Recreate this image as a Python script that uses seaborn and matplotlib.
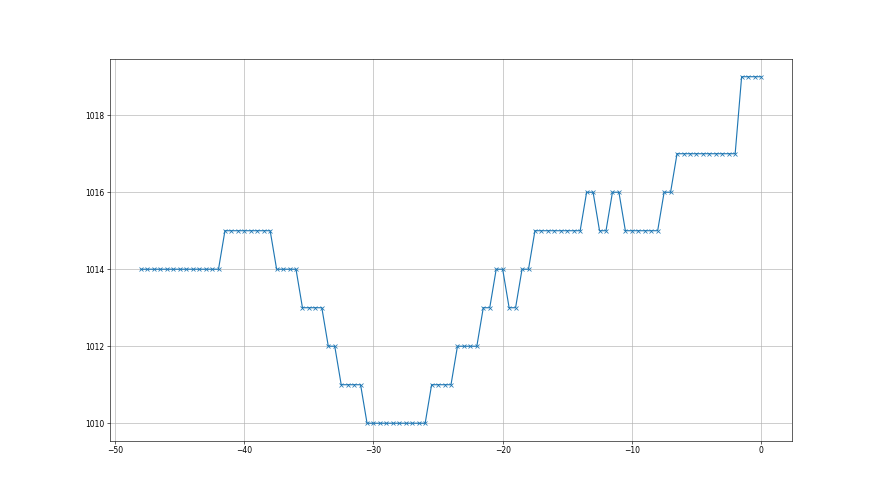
import matplotlib
matplotlib.use("Agg")
import matplotlib.pyplot as plt
import seaborn as sns

# --- Data --------------------------------------------------------------------
# time offsets (regular 0.5 step, -48 .. 0)
times = [
    -48.0, -47.5, -47.0, -46.5, -46.0, -45.5, -45.0, -44.5, -44.0, -43.5,
    -43.0, -42.5, -42.0, -41.5, -41.0, -40.5, -40.0, -39.5, -39.0, -38.5,
    -38.0, -37.5, -37.0, -36.5, -36.0, -35.5, -35.0, -34.5, -34.0, -33.5,
    -33.0, -32.5, -32.0, -31.5, -31.0, -30.5, -30.0, -29.5, -29.0, -28.5,
    -28.0, -27.5, -27.0, -26.5, -26.0, -25.5, -25.0, -24.5, -24.0, -23.5,
    -23.0, -22.5, -22.0, -21.5, -21.0, -20.5, -20.0, -19.5, -19.0, -18.5,
    -18.0, -17.5, -17.0, -16.5, -16.0, -15.5, -15.0, -14.5, -14.0, -13.5,
    -13.0, -12.5, -12.0, -11.5, -11.0, -10.5, -10.0, -9.5, -9.0, -8.5,
    -8.0, -7.5, -7.0, -6.5, -6.0, -5.5, -5.0, -4.5, -4.0, -3.5,
    -3.0, -2.5, -2.0, -1.5, -1.0, -0.5, 0.0,
]

# pressure readings (hPa)
pressure = [
    1014, 1014, 1014, 1014, 1014, 1014, 1014, 1014, 1014, 1014,
    1014, 1014, 1014, 1015, 1015, 1015, 1015, 1015, 1015, 1015,
    1015, 1014, 1014, 1014, 1014, 1013, 1013, 1013, 1013, 1012,
    1012, 1011, 1011, 1011, 1011, 1010, 1010, 1010, 1010, 1010,
    1010, 1010, 1010, 1010, 1010, 1011, 1011, 1011, 1011, 1012,
    1012, 1012, 1012, 1013, 1013, 1014, 1014, 1013, 1013, 1014,
    1014, 1015, 1015, 1015, 1015, 1015, 1015, 1015, 1015, 1016,
    1016, 1015, 1015, 1016, 1016, 1015, 1015, 1015, 1015, 1015,
    1015, 1016, 1016, 1017, 1017, 1017, 1017, 1017, 1017, 1017,
    1017, 1017, 1017, 1019, 1019, 1019, 1019,
]

# --- Plot ----------------------------------------------------------------------
fig, ax = plt.subplots(figsize=(16, 9), dpi=55)

sns.lineplot(x=times, y=pressure, ax=ax,
             color='C0', linewidth=1.5,
             marker='x', markersize=6,
             markeredgecolor='C0', markeredgewidth=1.0)

ax.grid(True)
ax.set_xticks([-50, -40, -30, -20, -10, 0])
ax.set_yticks([1010, 1012, 1014, 1016, 1018])

fig.savefig('out.png', dpi=55)
